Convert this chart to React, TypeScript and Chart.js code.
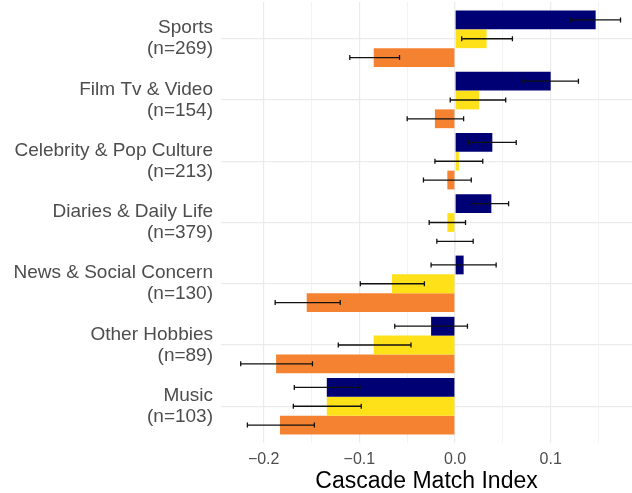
import React, { useEffect, useRef } from "react";
import { Chart, registerables } from "chart.js";

Chart.register(...registerables);

const categories: string[][] = [
  ["Sports", "(n=269)"],
  ["Film Tv & Video", "(n=154)"],
  ["Celebrity & Pop Culture", "(n=213)"],
  ["Diaries & Daily Life", "(n=379)"],
  ["News & Social Concern", "(n=130)"],
  ["Other Hobbies", "(n=89)"],
  ["Music", "(n=103)"],
];

const seriesNames = ["Series A", "Series B", "Series C"];
const seriesColors = ["#000075", "#ffe119", "#f58231"];

const navyValues = [0.147, 0.1, 0.039, 0.038, 0.009, -0.025, -0.134];
const navyLow = [0.121, 0.071, 0.014, 0.019, -0.025, -0.063, -0.168];
const navyHigh = [0.173, 0.129, 0.064, 0.056, 0.043, 0.013, -0.098];

const yellowValues = [0.033, 0.025, 0.004, -0.008, -0.066, -0.085, -0.134];
const yellowLow = [0.007, -0.005, -0.021, -0.027, -0.099, -0.122, -0.169];
const yellowHigh = [0.06, 0.053, 0.029, 0.011, -0.032, -0.046, -0.098];

const orangeValues = [-0.085, -0.021, -0.008, 0.0005, -0.155, -0.187, -0.183];
const orangeLow = [-0.11, -0.05, -0.033, -0.019, -0.188, -0.224, -0.217];
const orangeHigh = [-0.058, 0.009, 0.017, 0.019, -0.12, -0.149, -0.147];

const xTickLabels: Record<string, string> = {
  "-0.2": "\u22120.2",
  "-0.1": "\u22120.1",
  "0": "0.0",
  "0.1": "0.1",
};

const allValues = [navyValues, yellowValues, orangeValues];
const allLow = [navyLow, yellowLow, orangeLow];
const allHigh = [navyHigh, yellowHigh, orangeHigh];

const FONT = "'Liberation Sans', Arial, Helvetica, sans-serif";

const errorBarPlugin = {
  id: "errorBars",
  afterDatasetsDraw(chart: any) {
    const ctx = chart.ctx;
    const xScale = chart.scales.x;
    ctx.save();
    ctx.strokeStyle = "#111111";
    ctx.lineWidth = 1.3;
    chart.data.datasets.forEach((ds: any, i: number) => {
      const meta = chart.getDatasetMeta(i);
      meta.data.forEach((el: any, j: number) => {
        const y = el.y;
        const x1 = xScale.getPixelForValue(allLow[i][j]);
        const x2 = xScale.getPixelForValue(allHigh[i][j]);
        ctx.beginPath();
        ctx.moveTo(x1, y);
        ctx.lineTo(x2, y);
        ctx.moveTo(x1, y - 2.5);
        ctx.lineTo(x1, y + 2.5);
        ctx.moveTo(x2, y - 2.5);
        ctx.lineTo(x2, y + 2.5);
        ctx.stroke();
      });
    });
    ctx.restore();
  },
};

export default function App() {
  const canvasRef = useRef<HTMLCanvasElement | null>(null);

  useEffect(() => {
    document.body.style.margin = "0";
    const canvas = canvasRef.current;
    if (!canvas) return;
    const chart = new Chart(canvas, {
      type: "bar",
      data: {
        datasets: allValues.map((vals, i) => ({
          label: seriesNames[i],
          data: vals.map((v, j) => ({ x: v, y: j })),
          backgroundColor: seriesColors[i],
          borderWidth: 0,
          categoryPercentage: 0.92,
          barPercentage: 1,
        })),
      },
      options: {
        indexAxis: "y",
        responsive: true,
        maintainAspectRatio: false,
        animation: false,
        layout: { padding: { left: 0, right: 0, top: 2, bottom: 0 } },
        plugins: {
          legend: { display: false },
          tooltip: { enabled: false },
        },
        scales: {
          x: {
            type: "linear",
            min: -0.2446,
            max: 0.185,
            border: { display: false },
            grid: {
              drawTicks: false,
              color: "#ebebeb",
              lineWidth: (c: any) => {
                const v = c.tick ? c.tick.value : 0;
                return Math.abs(Math.round(v * 10) - v * 10) < 1e-6 ? 1.2 : 0.6;
              },
            },
            ticks: {
              stepSize: 0.05,
              includeBounds: false,
              autoSkip: false,
              maxRotation: 0,
              padding: 7,
              color: "#4d4d4d",
              font: { family: FONT, size: 16 },
              callback: (value: any) => {
                const v = Math.round(Number(value) * 100) / 100;
                const key = String(v === 0 ? 0 : v);
                return xTickLabels[key] !== undefined ? xTickLabels[key] : "";
              },
            },
            title: {
              display: true,
              text: "Cascade Match Index",
              color: "#000000",
              font: { family: FONT, size: 23, lineHeight: 1.0 },
              padding: { top: 0, bottom: 0 },
            },
            afterFit: (scale: any) => {
              scale.height = 50;
              scale.paddingLeft = 0;
              scale.paddingRight = 0;
            },
          },
          y: {
            type: "linear",
            min: -0.6,
            max: 6.6,
            reverse: true,
            offset: false,
            border: { display: false },
            grid: {
              offset: false,
              drawTicks: false,
              color: "#ebebeb",
              lineWidth: 1.2,
            },
            ticks: {
              stepSize: 1,
              includeBounds: false,
              autoSkip: false,
              padding: 8,
              color: "#4d4d4d",
              font: { family: FONT, size: 19, lineHeight: "21px" },
              callback: (value: any) => {
                const idx = Math.round(Number(value));
                return categories[idx] ? categories[idx] : "";
              },
            },
            afterFit: (scale: any) => {
              scale.width = 221;
              scale.paddingTop = 0;
              scale.paddingBottom = 0;
            },
          },
        },
      },
      plugins: [errorBarPlugin],
    } as any);
    return () => chart.destroy();
  }, []);

  return (
    <div style={{ position: "relative", width: "632px", height: "493px" }}>
      <canvas ref={canvasRef} />
    </div>
  );
}
